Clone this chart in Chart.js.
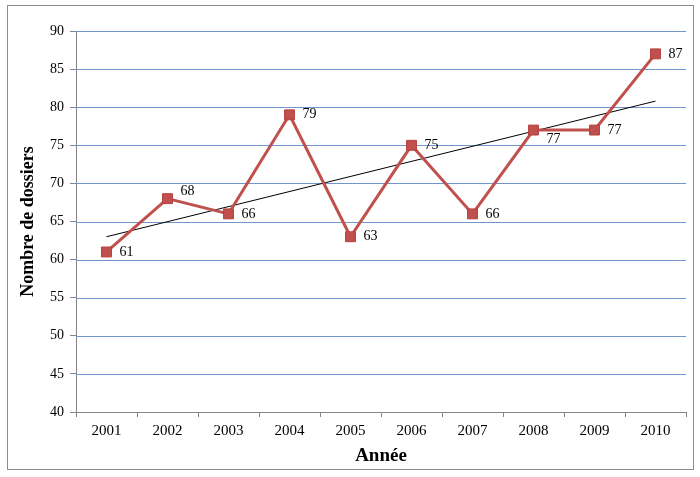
<!DOCTYPE html>
<html>
<head>
<meta charset="utf-8">
<script src="https://cdn.jsdelivr.net/npm/chart.js@4/dist/chart.umd.min.js"></script>
<style>
  html, body { margin: 0; padding: 0; background: #fff; }
  canvas { display: block; }
</style>
</head>
<body>
<canvas id="chart" width="700" height="477"></canvas>
<script>
// Données
const annees = ['2001', '2002', '2003', '2004', '2005', '2006', '2007', '2008', '2009', '2010'];
const dossiers = [61, 68, 66, 79, 63, 75, 66, 77, 77, 87];
// tendance linéaire : début et fin
const tendance = [63.0, null, null, null, null, null, null, null, null, 80.8];
const yTicks = [40, 45, 50, 55, 60, 65, 70, 75, 80, 85, 90];

const serif = '"Liberation Serif", "Times New Roman", serif';

// cadre autour du graphique
const cadre = {
  id: 'cadre',
  afterDraw(chart) {
    const ctx = chart.ctx;
    ctx.save();
    ctx.strokeStyle = '#8c8c8c';
    ctx.lineWidth = 1;
    ctx.strokeRect(7.5, 5.5, 686, 464);
    ctx.restore();
  }
};

// quadrillage horizontal bleu (sur l'échelle y)
const grille = {
  id: 'grille',
  beforeDatasetsDraw(chart) {
    const ctx = chart.ctx;
    const y = chart.scales.y;
    const area = chart.chartArea;
    ctx.save();
    ctx.strokeStyle = '#7096CC';
    ctx.lineWidth = 1;
    yTicks.forEach(v => {
      if (v === y.min) return;
      const py = Math.round(y.getPixelForValue(v)) + 0.5;
      ctx.beginPath();
      ctx.moveTo(area.left, py);
      ctx.lineTo(area.right, py);
      ctx.stroke();
    });
    ctx.restore();
  }
};

// étiquettes de valeurs à droite des points
const etiquettes = {
  id: 'etiquettes',
  afterDatasetsDraw(chart, args, opts) {
    const ctx = chart.ctx;
    const meta = chart.getDatasetMeta(0);
    ctx.save();
    ctx.font = '14px ' + serif;
    ctx.fillStyle = '#000';
    ctx.textAlign = 'left';
    ctx.textBaseline = 'middle';
    meta.data.forEach((pt, i) => {
      const dy = opts.decalage[i] || 0;
      ctx.fillText(String(dossiers[i]), pt.x + 13, pt.y + dy);
    });
    ctx.restore();
  }
};

const ctx = document.getElementById('chart').getContext('2d');
new Chart(ctx, {
  type: 'line',
  data: {
    labels: annees,
    datasets: [{
      data: dossiers,
      borderColor: '#C0504D',
      backgroundColor: '#C0504D',
      borderWidth: 3,
      pointStyle: 'rect',
      pointRadius: 7,
      pointBorderWidth: 1,
      pointBorderColor: '#B5403D',
      pointBackgroundColor: '#C0504D',
      tension: 0,
      order: 1
    }, {
      data: tendance,
      borderColor: '#000',
      borderWidth: 1,
      pointRadius: 0,
      spanGaps: true,
      fill: false,
      order: 2
    }]
  },
  options: {
    responsive: false,
    animation: false,
    devicePixelRatio: 1,
    layout: { padding: { left: 7, top: 31, right: 14, bottom: 7 } },
    plugins: {
      legend: { display: false },
      tooltip: { enabled: false },
      etiquettes: { decalage: { 1: -7, 7: 9 } }
    },
    scales: {
      x: {
        offset: true,
        grid: {
          offset: true,
          drawOnChartArea: false,
          drawTicks: true,
          tickLength: 5,
          tickColor: '#868686'
        },
        border: { color: '#868686', width: 1 },
        ticks: { color: '#000', font: { family: serif, size: 15 }, padding: 5, maxRotation: 0, autoSkip: false },
        title: {
          display: true,
          text: 'Année',
          color: '#000',
          font: { family: serif, size: 19, weight: 'bold' },
          padding: { top: 0, bottom: 3 }
        },
        afterFit(scale) { scale.height = 58; }
      },
      y: {
        min: 40,
        max: 90,
        afterBuildTicks(scale) { scale.ticks = yTicks.map(v => ({ value: v })); },
        grid: {
          drawOnChartArea: false,
          drawTicks: true,
          tickLength: 6,
          tickColor: '#868686'
        },
        border: { color: '#868686', width: 1 },
        ticks: { color: '#000', font: { family: serif, size: 14 }, padding: 6, autoSkip: false },
        title: {
          display: true,
          text: 'Nombre de dossiers',
          color: '#000',
          font: { family: serif, size: 18, weight: 'bold' },
          padding: { top: 11, bottom: 0 }
        },
        afterFit(scale) { scale.width = 69; }
      }
    }
  },
  plugins: [cadre, grille, etiquettes]
});
</script>
</body>
</html>
